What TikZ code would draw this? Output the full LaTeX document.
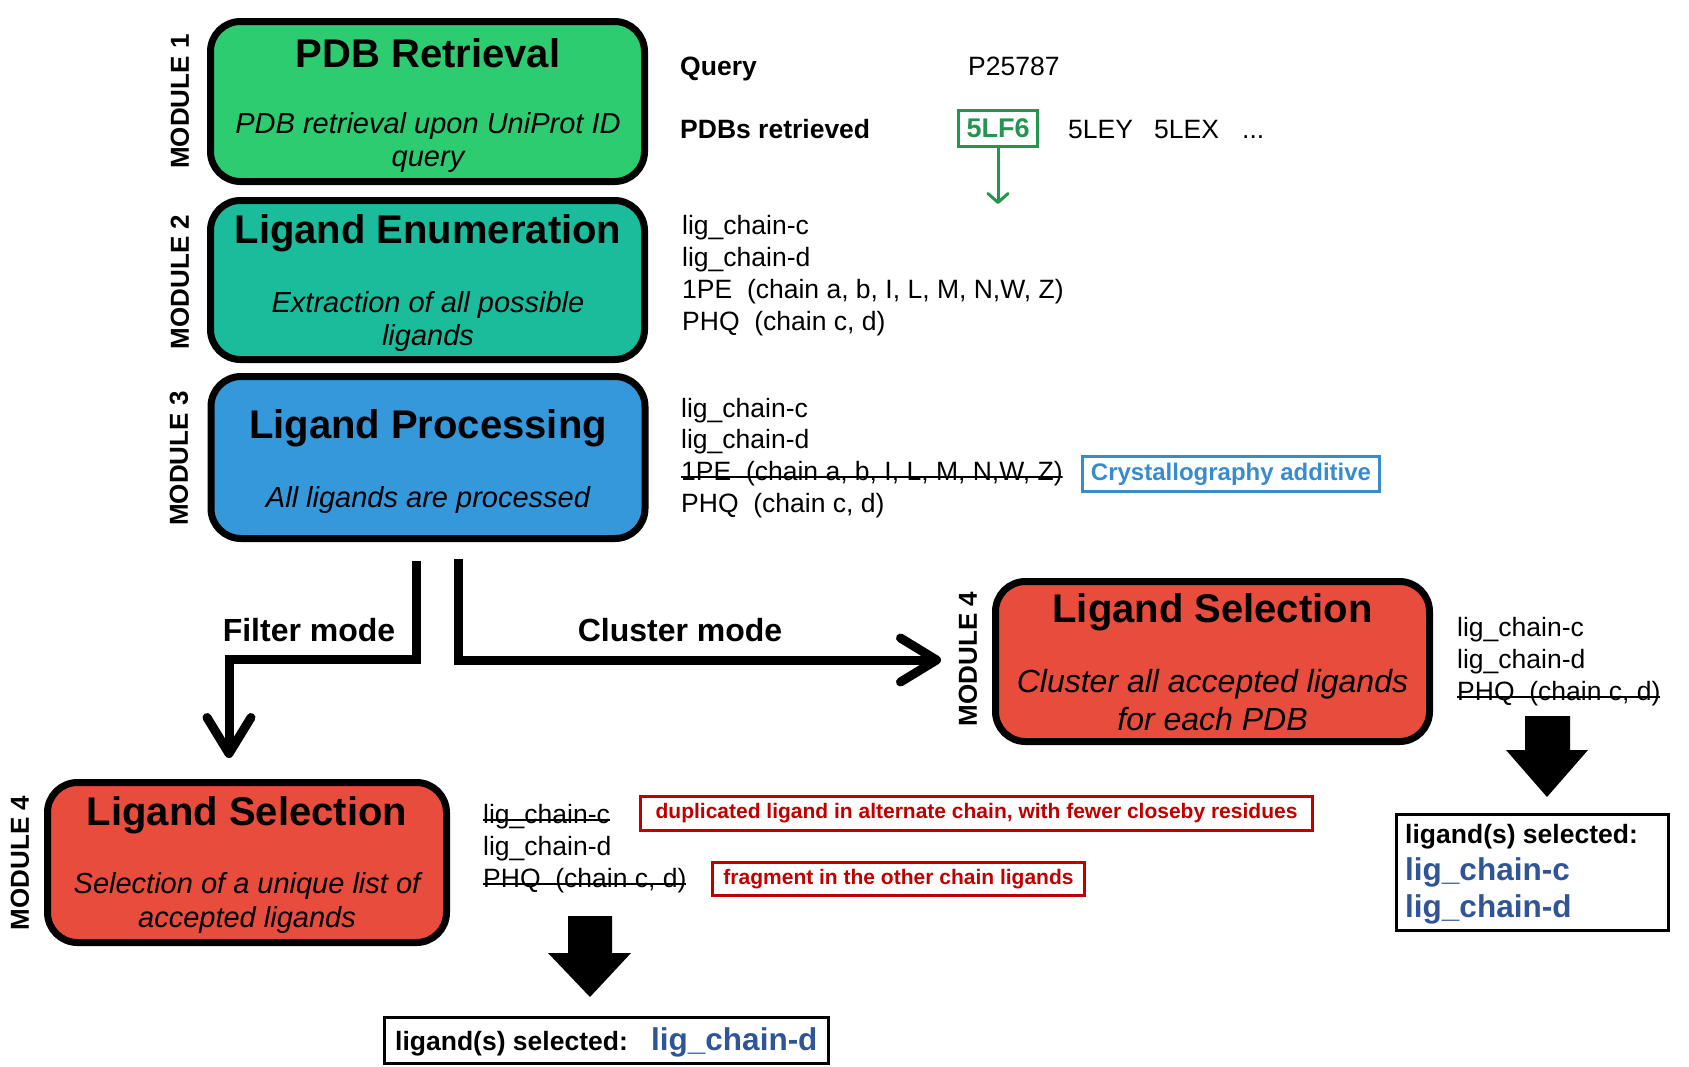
\documentclass[tikz,border=0pt]{standalone}
\usepackage{fontspec}
\setmainfont{Liberation Sans}
\usetikzlibrary{arrows.meta}
\definecolor{mgreen}{RGB}{46,204,113}
\definecolor{mteal}{RGB}{26,188,156}
\definecolor{mblue}{RGB}{52,152,219}
\definecolor{mred}{RGB}{231,76,60}
\definecolor{pgreen}{RGB}{34,150,78}
\definecolor{cblue}{RGB}{55,140,205}
\definecolor{nred}{RGB}{192,0,0}
\definecolor{sblue}{RGB}{47,85,151}
\newcommand\fsz[1]{\fontsize{#1}{#1}\selectfont}
\begin{document}
\begin{tikzpicture}[x=1pt,y=-1pt,
  modbox/.style={draw=black, line width=7pt, rounded corners=30pt, inner sep=0pt},
  ttl/.style={font=\bfseries\fsz{40}, anchor=base, inner sep=0pt},
  sub/.style={font=\itshape\fsz{29}, anchor=base, inner sep=0pt},
  subb/.style={font=\itshape\fsz{32}, anchor=base, inner sep=0pt},
  modlbl/.style={font=\bfseries\fsz{26}, rotate=90, inner sep=0pt},
  lst/.style={font=\fsz{26.5}, anchor=base west, inner sep=0pt},
  lstb/.style={font=\bfseries\fsz{26.5}, anchor=base west, inner sep=0pt},
  struck/.style={text height=0.8em, text depth=0.2em,
    path picture={\draw[line width=1.6pt] (path picture bounding box.west) -- (path picture bounding box.east);}},
  modetxt/.style={font=\bfseries\fsz{32}, anchor=base, inner sep=0pt},
  notebox/.style={draw=nred, line width=3pt, text=nred, font=\bfseries\fsz{21}, inner sep=0pt},
  resbox/.style={draw=black, line width=3pt, inner sep=0pt},
  seltxt/.style={font=\bfseries\fsz{31.5}, text=sblue, anchor=base west, inner sep=0pt},
  bigarr/.style={line width=9pt, line join=miter, -{Straight Barb[length=36pt,width=44pt,round]}},
  blockarr/.style={fill=black}
]
\useasboundingbox (0,0) rectangle (1689,1066);

% ---- Module boxes ----
\node[modbox, fill=mgreen, minimum width=434pt, minimum height=160pt] (m1) at (427.5,101.5) {};
\node[modbox, fill=mteal,  minimum width=434pt, minimum height=159pt] (m2) at (427.5,280) {};
\node[modbox, fill=mblue,  minimum width=434pt, minimum height=162pt] (m3) at (428,457.5) {};
\node[modbox, fill=mred,   minimum width=434pt, minimum height=160pt] (m4r) at (1212.5,661.5) {};
\node[modbox, fill=mred,   minimum width=399pt, minimum height=160pt] (m4b) at (247,862.5) {};

% module labels
\node[modlbl] (l1) at (180,101.5) {MODULE 1};
\node[modlbl] (l2) at (180,282) {MODULE 2};
\node[modlbl] (l3) at (179,458.5) {MODULE 3};
\node[modlbl] (l4r) at (968,659) {MODULE 4};
\node[modlbl] (l4b) at (20,863) {MODULE 4};

% titles and subtitles
\node[ttl] (t1) at (428,67) {PDB Retrieval};
\node[sub] (s1a) at (428,133) {PDB retrieval upon UniProt ID};
\node[sub] (s1b) at (428,166) {query};
\node[ttl] (t2) at (428,243) {Ligand Enumeration};
\node[sub] (s2a) at (428,312) {Extraction of all possible};
\node[sub] (s2b) at (428,345) {ligands};
\node[ttl] (t3) at (428,438) {Ligand Processing};
\node[sub] (s3a) at (428,507) {All ligands are processed};
\node[ttl] (t4r) at (1212.5,622) {Ligand Selection};
\node[subb] (s4ra) at (1212.5,692) {Cluster all accepted ligands};
\node[subb] (s4rb) at (1212.5,730) {for each PDB};
\node[ttl] (t4b) at (247,825) {Ligand Selection};
\node[sub] (s4ba) at (247,893) {Selection of a unique list of};
\node[sub] (s4bb) at (247,927) {accepted ligands};

% ---- Query / PDBs ----
\node[lstb] (q) at (680,75) {Query};
\node[lst] (qv) at (968,75) {P25787};
\node[lstb] (pr) at (680,138) {PDBs retrieved};
\node[draw=pgreen, line width=3pt, text=pgreen, font=\bfseries\fsz{27}, inner sep=0pt,
      minimum width=79pt, minimum height=36pt] (p1) at (998,128.5) {5LF6};
\node[lst] (p2) at (1068,138) {5LEY};
\node[lst] (p3) at (1154,138) {5LEX};
\node[lst] (p4) at (1242,138) {...};
\coordinate (p1end) at (998,204);
\draw[pgreen, line width=3pt, -{Straight Barb[length=9pt,width=20pt,round]}] (p1.south) -- (p1end);

% ---- Module 2 list ----
\node[lst] (a1) at (682,234) {lig\_chain-c};
\node[lst] (a2) at (682,266) {lig\_chain-d};
\node[lst] (a3) at (682,298) {1PE~~(chain a, b, I, L, M, N,W, Z)};
\node[lst] (a4) at (682,330) {PHQ~~(chain c, d)};

% ---- Module 3 list ----
\node[lst] (b1) at (681,417) {lig\_chain-c};
\node[lst] (b2) at (681,448) {lig\_chain-d};
\node[lst, struck] (b3) at (681,480) {1PE~~(chain a, b, I, L, M, N,W, Z)};
\node[lst] (b4) at (681,512) {PHQ~~(chain c, d)};
\node[draw=cblue, line width=3pt, text=cblue, font=\bfseries\fsz{24}, inner sep=0pt,
      minimum width=297pt, minimum height=35pt] (cry) at (1231,474) {Crystallography additive};

% ---- mode arrows ----
\coordinate (fA) at (416,561);
\coordinate (fB) at (229,758);
\coordinate (cA) at (458,559);
\coordinate (cB) at (941,660);
\draw[bigarr] (fA) -- (416,659.5) -| (fB);
\draw[bigarr] (cA) |- (cB);
\node[modetxt] (fm) at (309,641) {Filter mode};
\node[modetxt] (cm) at (680,641) {Cluster mode};

% ---- Module 4 right list ----
\node[lst] (r1) at (1457,636) {lig\_chain-c};
\node[lst] (r2) at (1457,668) {lig\_chain-d};
\node[lst, struck] (r3) at (1457,700) {PHQ~~(chain c, d)};
\fill[blockarr] (1525,716) -- (1570,716) -- (1570,750) -- (1588,750) -- (1547,797) -- (1506,750) -- (1525,750) -- cycle;
\node[resbox, minimum width=272pt, minimum height=116pt] (rr) at (1532.5,872.5) {};
\node[lstb] (rr0) at (1405,843) {ligand(s) selected:};
\node[seltxt] (rr1) at (1405,880) {lig\_chain-c};
\node[seltxt] (rr2) at (1405,917) {lig\_chain-d};

% ---- Module 4 bottom list ----
\node[lst, struck] (c1) at (483,823) {lig\_chain-c};
\node[lst] (c2) at (483,855) {lig\_chain-d};
\node[lst, struck] (c3) at (483,887) {PHQ~~(chain c, d)};
\node[notebox, minimum width=672pt, minimum height=34pt] (n1) at (976.5,813.5) {duplicated ligand in alternate chain, with fewer closeby residues};
\node[notebox, minimum width=372pt, minimum height=33pt] (n2) at (898.5,879) {fragment in the other chain ligands};
\fill[blockarr] (568,916) -- (612,916) -- (612,953) -- (631,953) -- (590,997) -- (548,953) -- (568,953) -- cycle;
\node[resbox, minimum width=444pt, minimum height=46pt] (rb) at (606.5,1040.5) {};
\node[lstb] (rb0) at (395,1050) {ligand(s) selected:};
\node[seltxt] (rb1) at (651,1050) {lig\_chain-d};
\end{tikzpicture}
\end{document}
